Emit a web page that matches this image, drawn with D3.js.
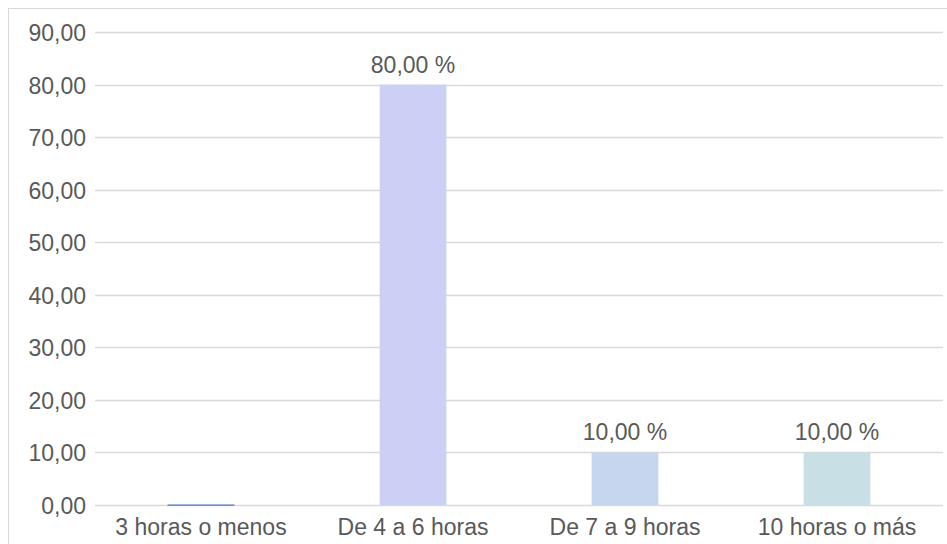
<!DOCTYPE html>
<html>
<head>
<meta charset="utf-8">
<script src="https://cdn.jsdelivr.net/npm/d3@7"></script>
<style>
  html, body { margin: 0; padding: 0; background: #fff; }
  svg { display: block; }
  text { font-family: "Liberation Sans", Arial, sans-serif; fill: #595959; }
</style>
</head>
<body>
<svg id="chart" width="947" height="544"></svg>
<script>
// Horas de uso por categoría (porcentaje)
const categories = ["3 horas o menos", "De 4 a 6 horas", "De 7 a 9 horas", "10 horas o más"];
const values = [0, 80, 10, 10];
const showLabel = [false, true, true, true];
const barColors = ["#4472c4", "#cdd0f5", "#c6d6ef", "#c9dfe6"];
const yTicks = [0, 10, 20, 30, 40, 50, 60, 70, 80, 90];

const svg = d3.select("#chart");
const W = 947, H = 544;
const FS = 23;

// outer chart frame
svg.append("rect")
  .attr("x", 8.5).attr("y", 8.5)
  .attr("width", W + 10).attr("height", H + 10)
  .attr("fill", "none").attr("stroke", "#d9d9d9").attr("stroke-width", 1);

const plot = { left: 95, right: 943, top: 33, bottom: 506 };

const x = d3.scaleBand()
  .domain(categories)
  .range([plot.left, plot.right])
  .paddingInner(0.685)
  .paddingOuter(0.3425);

const y = d3.scaleLinear().domain([0, 90]).range([plot.bottom, plot.top]);

const fmt = v => d3.format(".2f")(v).replace(".", ",");

// gridlines
svg.append("g")
  .selectAll("line")
  .data(yTicks)
  .join("line")
  .attr("x1", plot.left).attr("x2", plot.right)
  .attr("y1", d => Math.round(y(d)) - 0.5).attr("y2", d => Math.round(y(d)) - 0.5)
  .attr("stroke", "#d9d9d9").attr("stroke-width", 1.5);

// y axis labels
svg.append("g")
  .selectAll("text")
  .data(yTicks)
  .join("text")
  .attr("x", 86)
  .attr("y", d => y(d))
  .attr("dy", "0.35em")
  .attr("text-anchor", "end")
  .attr("font-size", FS)
  .text(d => fmt(d));

// bars
const bars = categories.map((c, i) => ({ c, v: values[i], color: barColors[i], label: showLabel[i] }));

svg.append("g")
  .selectAll("rect")
  .data(bars)
  .join("rect")
  .attr("x", d => x(d.c))
  .attr("width", x.bandwidth())
  .attr("y", d => d.v > 0 ? y(d.v) - 1 : y(0) - 1.5)
  .attr("height", d => d.v > 0 ? y(0) - y(d.v) : 1.2)
  .attr("fill", d => d.color);

// value labels
svg.append("g")
  .selectAll("text")
  .data(bars.filter(d => d.label))
  .join("text")
  .attr("x", d => x(d.c) + x.bandwidth() / 2)
  .attr("y", d => y(d.v) - 13)
  .attr("text-anchor", "middle")
  .attr("font-size", FS)
  .text(d => fmt(d.v) + " %");

// category labels
svg.append("g")
  .selectAll("text")
  .data(categories)
  .join("text")
  .attr("x", d => x(d) + x.bandwidth() / 2)
  .attr("y", 535)
  .attr("text-anchor", "middle")
  .attr("font-size", FS)
  .text(d => d);
</script>
</body>
</html>
